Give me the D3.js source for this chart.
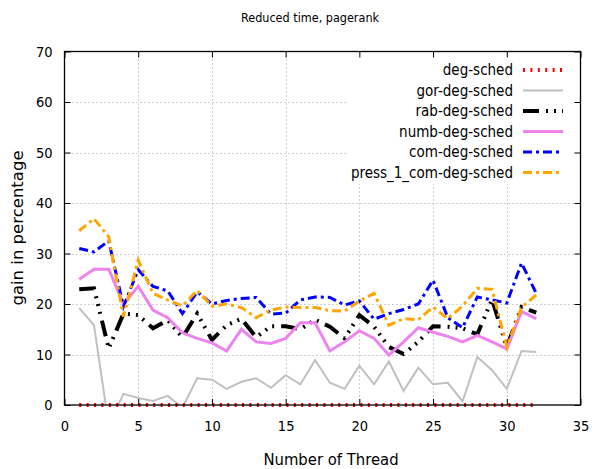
<!DOCTYPE html>
<html><head><meta charset="utf-8">
<script src="https://cdn.jsdelivr.net/npm/d3@7"></script>
<style>
body{margin:0;background:#fff;}
text{font-family:"DejaVu Sans Condensed","DejaVu Sans",sans-serif;font-stretch:condensed;}
text.plain{font-family:"DejaVu Sans",sans-serif;font-stretch:normal;}
</style></head><body>
<svg id="c" width="594" height="469"></svg>
<script>
const threads = d3.range(1, 33);
const degSched = threads.map(() => 0);
const gorDegSched = [19.2,15.8,-4,2.2,1.4,0.8,1.8,-0.5,5.3,5.0,3.2,4.6,5.3,3.4,5.9,4.1,8.9,4.4,3.2,7.8,4.1,8.6,2.8,7.4,4.1,4.4,0.7,9.5,6.9,3.2,10.7,10.5];
const rabDegSched = [22.9,23.1,11.2,18.1,17.8,15.2,16.8,13.4,18.1,12.9,15.8,17.1,13.4,15.6,15.6,15.0,16.9,15.5,13.2,17.8,15.5,11.5,10.1,12.5,15.6,15.5,15.2,14.0,20.9,11.5,19.4,18.3];
const numbDegSched = [24.9,26.9,26.9,20.0,23.5,18.8,17.3,14.3,13.2,12.3,10.7,15.0,12.5,12.2,13.2,16.3,16.3,10.7,12.5,14.7,13.2,9.9,12.5,15.3,14.4,13.6,12.5,13.8,12.5,11.1,18.5,17.1];
const comDegSched = [31.0,30.3,32.5,19.5,26.8,23.5,22.6,18.1,22.4,20.0,20.7,21.1,21.3,18.0,18.2,20.8,21.4,21.3,19.8,20.6,17.0,18.1,18.9,20.0,24.7,17.3,15.3,21.4,20.8,20.2,28.1,22.1];
const press1ComDegSched = [34.5,36.9,33.3,17.5,28.7,22.1,20.8,19.6,22.7,19.6,20.0,19.3,17.3,18.8,19.4,19.3,19.3,18.7,18.6,20.6,22.1,15.8,17.1,16.9,19.4,17.1,19.6,23.1,22.9,11.5,19.3,21.8];
const seriesNames = ["deg-sched","gor-deg-sched","rab-deg-sched","numb-deg-sched","com-deg-sched","press_1_com-deg-sched"];
const xTicks = [0,5,10,15,20,25,30,35];
const yTicks = [0,10,20,30,40,50,60,70];

const series = [
  {name: seriesNames[0], values: degSched, color:"#ff0000", width:4, dash:"2,5.4"},
  {name: seriesNames[1], values: gorDegSched, color:"#c0c0c0", width:2, dash:null},
  {name: seriesNames[2], values: rabDegSched, color:"#000000", width:4, dash:"16,7,2,6,2,6,2,7"},
  {name: seriesNames[3], values: numbDegSched, color:"#ee82ee", width:3, dash:null},
  {name: seriesNames[4], values: comDegSched, color:"#0000ff", width:3, dash:"9,4,3,4"},
  {name: seriesNames[5], values: press1ComDegSched, color:"#ffa500", width:3, dash:"9,4,3,4"}
];

const svg = d3.select("#c");
const L = 64.5, R = 580.5, T = 51.5, B = 405;
const x = d3.scaleLinear().domain([0,35]).range([L,R]);
const y = d3.scaleLinear().domain([0,70]).range([B,T]);

svg.append("defs").append("clipPath").attr("id","clip")
  .append("rect").attr("x",L).attr("y",T).attr("width",R-L).attr("height",B-T);

// grid
const grid = svg.append("g").attr("stroke","#a0a0a0").attr("stroke-width",1).attr("stroke-dasharray","1,3");
yTicks.filter(v=>v>0&&v<70).forEach(v=>grid.append("line").attr("x1",L).attr("x2",R).attr("y1",Math.round(y(v))+0.5).attr("y2",Math.round(y(v))+0.5));
xTicks.filter(v=>v>0&&v<35).forEach(v=>grid.append("line").attr("y1",T).attr("y2",B).attr("x1",Math.round(x(v))+0.5).attr("x2",Math.round(x(v))+0.5));

// legend background (opaque key)
svg.append("rect").attr("x",348).attr("y",T+1).attr("width",R-348-1).attr("height",184-T-1).attr("fill","#fff");

// data lines
const line = d3.line().x((d,i)=>x(threads[i])).y(d=>y(d));
const plot = svg.append("g").attr("clip-path","url(#clip)");
// red deg-sched along 0 line (not clipped so it crosses the axis)
svg.append("path").datum(series[0].values).attr("d",line).attr("fill","none")
  .attr("stroke",series[0].color).attr("stroke-width",series[0].width).attr("stroke-dasharray",series[0].dash);
series.slice(1).forEach(s=>{
  plot.append("path").datum(s.values).attr("d",line).attr("fill","none")
    .attr("stroke",s.color).attr("stroke-width",s.width)
    .attr("stroke-dasharray",s.dash).attr("stroke-linejoin","miter");
});

// axes
const fs = "14.5px";
const ax = svg.append("g").attr("transform",`translate(0,${B})`).call(d3.axisBottom(x).tickValues(xTicks).tickSize(-6).tickPadding(16).tickFormat(d3.format("d")));
const axT = svg.append("g").attr("transform",`translate(0,${T})`).call(d3.axisTop(x).tickValues(xTicks).tickSize(-6).tickFormat(""));
const ay = svg.append("g").attr("transform",`translate(${L},0)`).call(d3.axisLeft(y).tickValues(yTicks).tickSize(-6).tickPadding(12).tickFormat(d3.format("d")));
const ayR = svg.append("g").attr("transform",`translate(${R},0)`).call(d3.axisRight(y).tickValues(yTicks).tickSize(-6).tickFormat(""));
[ax,axT,ay,ayR].forEach(g=>{
  g.select(".domain").remove();
  g.selectAll("line").attr("stroke","#000").attr("stroke-width",1);
  g.selectAll("text").attr("font-size",fs).attr("fill","#000").attr("font-family",null);
});
svg.append("rect").attr("x",L).attr("y",T).attr("width",R-L).attr("height",B-T).attr("fill","none").attr("stroke","#000").attr("stroke-width",1.3);

// legend
const lg = svg.append("g");
series.forEach((s,i)=>{
  const yy = 70 + i*20.5;
  lg.append("text").attr("x",513).attr("y",yy).attr("dy","0.35em").attr("text-anchor","end").attr("font-size","15px").text(s.name);
  lg.append("line").attr("x1",523).attr("x2",563).attr("y1",yy).attr("y2",yy)
    .attr("stroke",s.color).attr("stroke-width",s.width).attr("stroke-dasharray",s.dash);
});

// titles
svg.append("text").attr("x",310).attr("y",22).attr("text-anchor","middle").attr("font-size","12.5px").text("Reduced time, pagerank");
svg.append("text").attr("x",331).attr("y",465).attr("text-anchor","middle").attr("font-size","16.5px").text("Number of Thread");
svg.append("text").attr("class","plain").attr("transform","translate(23,228) rotate(-90)").attr("text-anchor","middle").attr("font-size","16.5px").text("gain in percentage");
</script></body></html>
